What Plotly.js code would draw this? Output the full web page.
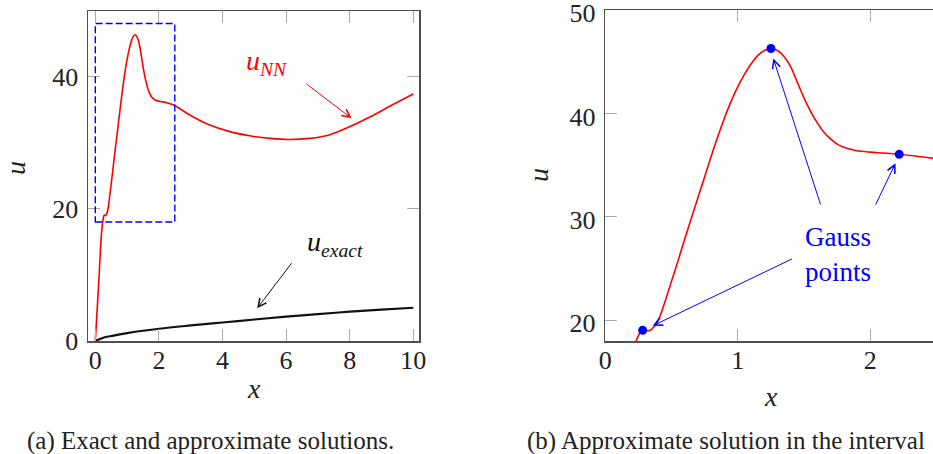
<!DOCTYPE html>
<html>
<head>
<meta charset="utf-8">
<script src="https://cdn.plot.ly/plotly-3.0.1.min.js"></script>
<style>
  html, body { margin: 0; padding: 0; background: #fff; }
  #chart { width: 933px; height: 454px; }
</style>
</head>
<body>
<div id="chart"></div>
<script>
// Neural-network approximation u_NN on [0, 10]
const xNN = [0, 0.1, 0.2, 0.242, 0.262, 0.282, 0.31, 0.34, 0.37, 0.4, 0.44, 0.5, 0.55, 0.6,
  0.65, 0.7, 0.75, 0.8, 0.85, 0.9, 0.95, 1.0, 1.05, 1.1, 1.15, 1.2, 1.25, 1.3, 1.35, 1.4,
  1.45, 1.5, 1.55, 1.6, 1.65, 1.7, 1.75, 1.8, 1.85, 1.9, 2.0, 2.1, 2.218, 2.35, 2.5,
  3.0, 3.6, 4.2, 4.9, 5.5, 6.1, 6.75, 7.4, 8.0, 8.65, 9.3, 10];
const uNN = [0, 8.2, 16.6, 18.3, 18.8, 19.03, 19.0, 19.05, 19.4, 20.0, 21.4, 23.8, 25.8, 27.9,
  29.9, 31.9, 33.9, 35.9, 37.8, 39.6, 41.2, 42.6, 43.8, 44.8, 45.6, 46.1, 46.3, 46.1, 45.5, 44.5,
  43.0, 41.5, 40.2, 39.1, 38.2, 37.55, 37.05, 36.75, 36.55, 36.4, 36.27, 36.18, 36.06, 35.87, 35.6,
  34.1, 32.65, 31.7, 31.0, 30.64, 30.48, 30.64, 31.24, 32.4, 33.9, 35.6, 37.35];

// Exact solution u_exact
const xExact = [0, 0.25, 0.5, 1, 2, 3, 4, 5, 6, 7, 8, 9, 10];
const uExact = [0, 0.5, 0.75, 1.2, 1.85, 2.35, 2.8, 3.25, 3.68, 4.07, 4.43, 4.75, 5.03];

// Three Gauss points on [0, 2.5]
const xGauss = [0.282, 1.25, 2.218];
const uGauss = [19.03, 46.3, 36.06];

// Tick values
const leftXTicks = [0, 2, 4, 6, 8, 10];
const leftYTicks = [0, 20, 40];
const rightXTicks = [0, 1, 2];
const rightYTicks = [20, 30, 40, 50];

// Zoom window drawn on the left panel
const boxX = [0, 2.5];
const boxY = [18, 48];

const W = 933, H = 454;
const px = v => v / W;
const py = v => 1 - v / H;

const FONT = "Liberation Serif";
const TICKFONT = { family: FONT, size: 26, color: "#222" };
const FRAME = "#505050";
const TICKCOL = "#aaaaaa";

function axisBase(range, ticks, extra) {
  return Object.assign({
    range: range,
    tickmode: "array",
    tickvals: ticks,
    ticktext: ticks.map(String),
    ticks: "inside",
    ticklen: 12,
    tickwidth: 1,
    tickcolor: TICKCOL,
    showline: true,
    linecolor: FRAME,
    linewidth: 1.5,
    mirror: "ticks",
    showgrid: false,
    zeroline: false,
    tickfont: TICKFONT,
    ticklabeloverflow: "allow",
    automargin: false,
    fixedrange: true
  }, extra || {});
}

const redLine = { color: "#ff0000", width: 1.6, shape: "spline", smoothing: 1 };

const traces = [
  { x: xNN, y: uNN, xaxis: "x", yaxis: "y", mode: "lines", line: redLine,
    hoverinfo: "skip", showlegend: false },
  { x: xExact, y: uExact, xaxis: "x", yaxis: "y", mode: "lines",
    line: { color: "#111111", width: 2.2, shape: "spline", smoothing: 1 },
    hoverinfo: "skip", showlegend: false },
  { x: xNN, y: uNN, xaxis: "x2", yaxis: "y2", mode: "lines", line: redLine,
    hoverinfo: "skip", showlegend: false },
  { x: xGauss, y: uGauss, xaxis: "x2", yaxis: "y2", mode: "markers",
    marker: { color: "#0000ff", size: 9 },
    hoverinfo: "skip", showlegend: false }
];

function arrow(xr, yr, tail, head, color) {
  return {
    xref: xr, yref: yr, axref: xr, ayref: yr,
    x: head[0], y: head[1], ax: tail[0], ay: tail[1],
    text: "", showarrow: true, arrowhead: 5, arrowsize: 1.6, arrowwidth: 1,
    arrowcolor: color, standoff: 0, startstandoff: 0
  };
}

function paperText(text, x, y, opts) {
  return Object.assign({
    xref: "paper", yref: "paper", x: px(x), y: py(y),
    text: text, showarrow: false,
    font: { family: FONT, size: 28, color: "#222" },
    xanchor: "center", yanchor: "middle"
  }, opts || {});
}

const annotations = [
  // axis labels
  paperText("<i>x</i>", 254, 388),
  paperText("<i>u</i>", 15, 168, { textangle: -90 }),
  paperText("<i>x</i>", 771, 396),
  paperText("<i>u</i>", 538, 175, { textangle: -90 }),
  // captions
  paperText("(a) Exact and approximate solutions.", 25, 441,
    { xanchor: "left", font: { family: FONT, size: 25, color: "#222" } }),
  paperText("(b) Approximate solution in the interval", 525, 441,
    { xanchor: "left", font: { family: FONT, size: 25, color: "#222" } }),
  // curve labels
  { xref: "x", yref: "y", x: 5.37, y: 42.1, showarrow: false,
    text: "<i>u</i><sub><i>NN</i></sub>",
    font: { family: FONT, size: 28, color: "#ff0000" } },
  { xref: "x", yref: "y", x: 7.54, y: 14.7, showarrow: false,
    text: "<i>u</i><sub><i>exact</i></sub>",
    font: { family: FONT, size: 28, color: "#111" } },
  arrow("x", "y", [6.59, 39.05], [8.06, 33.67], "#ff0000"),
  arrow("x", "y", [6.21, 11.99], [5.09, 4.94], "#111111"),
  // Gauss point callouts
  { xref: "x2", yref: "y2", x: 1.49, y: 26.4, showarrow: false, xanchor: "left",
    align: "left", text: "Gauss<br>points",
    font: { family: FONT, size: 27, color: "#0000ff" } },
  arrow("x2", "y2", [1.628, 31.06], [1.268, 45.33], "#0000ff"),
  arrow("x2", "y2", [2.035, 31.06], [2.19, 35.19], "#0000ff"),
  arrow("x2", "y2", [1.419, 26.0], [0.358, 19.47], "#0000ff")
];

const shapes = [
  { type: "rect", xref: "x", yref: "y", x0: boxX[0], x1: boxX[1], y0: boxY[0], y1: boxY[1],
    line: { color: "#0000ff", width: 1.4, dash: "7px,3px" } }
];

const layout = {
  width: W, height: H,
  margin: { l: 0, r: 0, t: 0, b: 0 },
  paper_bgcolor: "#fff", plot_bgcolor: "#fff",
  showlegend: false,
  xaxis: axisBase([-0.23, 10.18], leftXTicks,
    { domain: [px(88), px(419)], anchor: "y", ticklabelstandoff: -5 }),
  yaxis: axisBase([0, 49.9], leftYTicks,
    { domain: [py(341), py(11)], anchor: "x", ticklabelstandoff: 3 }),
  xaxis2: axisBase([0, 2.473], rightXTicks,
    { domain: [px(605.3), 1], anchor: "y2", ticklabelstandoff: -5 }),
  yaxis2: axisBase([18, 50.02], rightYTicks,
    { domain: [py(341), py(10)], anchor: "x2", mirror: false, ticklabelstandoff: 3,
      ticklabelshift: 3 }),
  annotations: annotations,
  shapes: shapes
};

Plotly.newPlot("chart", traces, layout, { displayModeBar: false, staticPlot: true });
</script>
</body>
</html>
